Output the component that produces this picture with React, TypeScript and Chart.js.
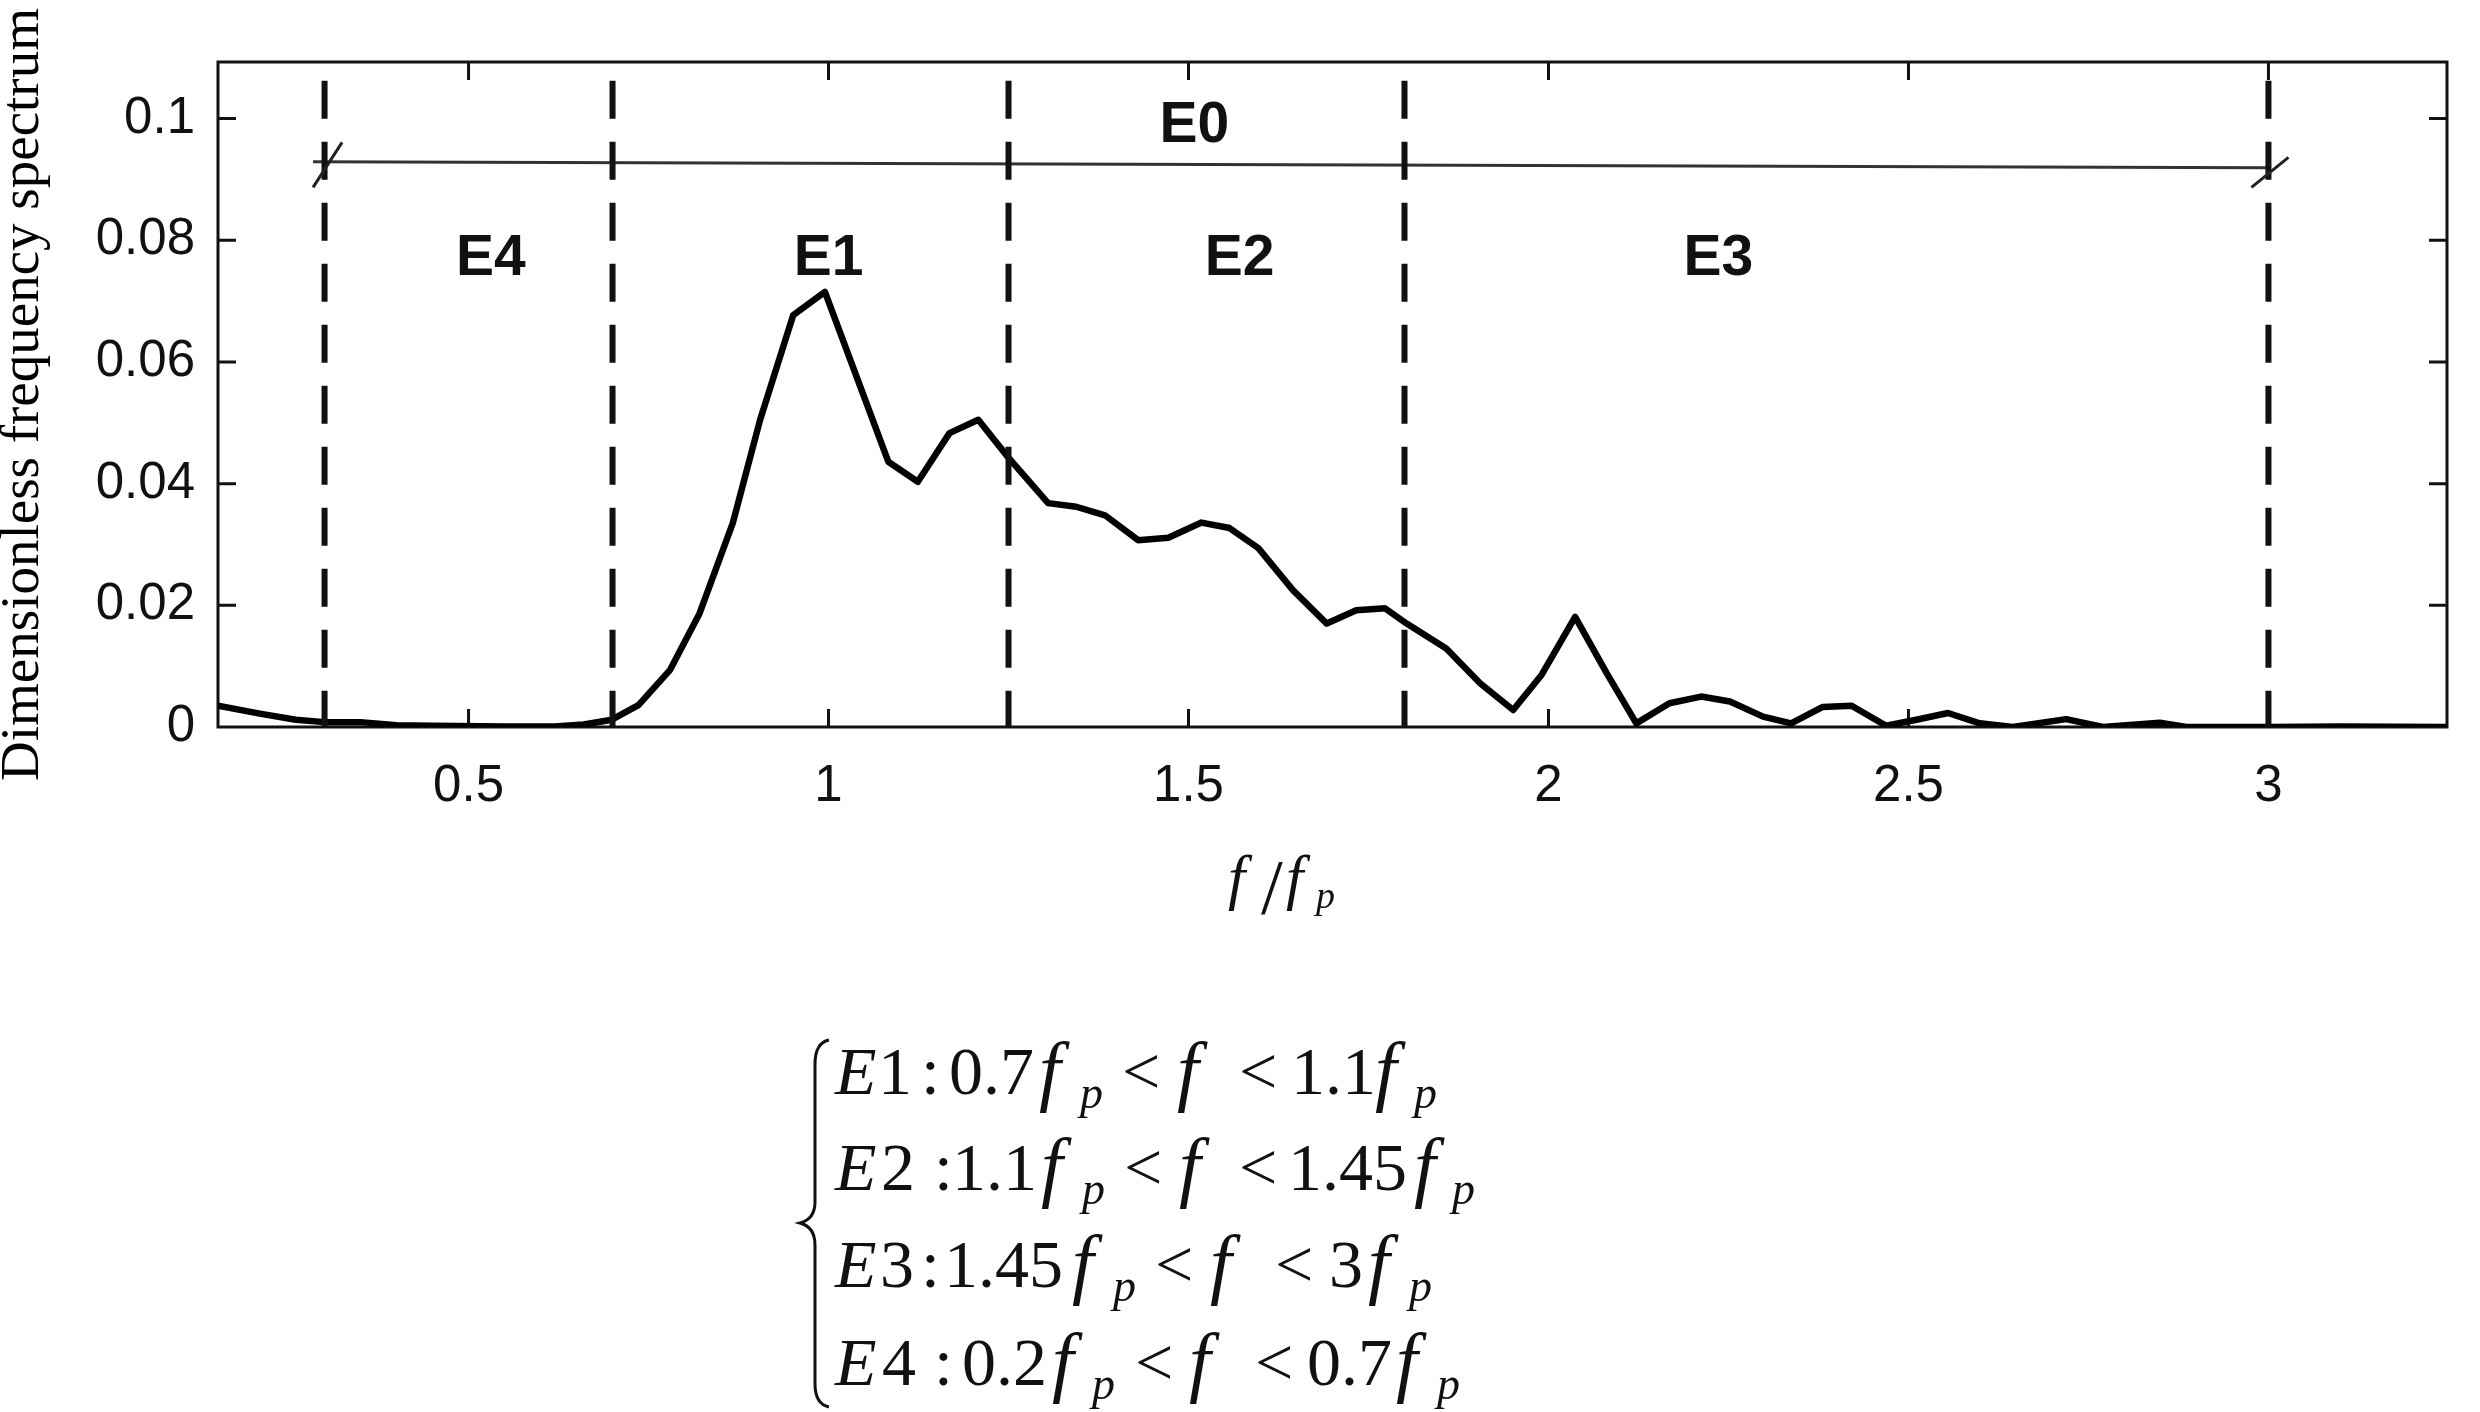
import React, { useEffect, useRef } from 'react';
import { Chart, registerables } from 'chart.js';

Chart.register(...registerables);

// ---- data ----
const FREQ = [
  0.152, 0.21, 0.26, 0.3, 0.35, 0.4, 0.45, 0.55, 0.62, 0.66,
  0.699, 0.736, 0.78, 0.821, 0.867, 0.905, 0.951, 0.995, 1.083, 1.124,
  1.168, 1.208, 1.249, 1.305, 1.344, 1.384, 1.43, 1.472, 1.518, 1.557,
  1.597, 1.645, 1.692, 1.733, 1.773, 1.803, 1.858, 1.905, 1.951, 1.99,
  2.037, 2.081, 2.122, 2.168, 2.212, 2.252, 2.298, 2.337, 2.381, 2.421,
  2.469, 2.511, 2.555, 2.599, 2.645, 2.719, 2.77, 2.849, 2.886, 3.0,
  3.1, 3.248,
];
const SPECTRUM = [
  0.0035, 0.0022, 0.0012, 0.0008, 0.0008, 0.0003, 0.0002, 0.0001, 0.0001, 0.0004,
  0.0012, 0.0036, 0.0094, 0.0187, 0.0335, 0.0505, 0.0677, 0.0715, 0.0436, 0.0403,
  0.0483, 0.0505, 0.0444, 0.0368, 0.0362, 0.0348, 0.0307, 0.0311, 0.0336, 0.0327,
  0.0294, 0.0225, 0.017, 0.0192, 0.0195, 0.017, 0.0129, 0.0072, 0.0028, 0.0085,
  0.0181, 0.0088, 0.0006, 0.0039, 0.005, 0.0042, 0.0017, 0.0006, 0.0033, 0.0035,
  0.0002, 0.0012, 0.0023, 0.0006, 0.0, 0.0013, 0.0, 0.0007, 0.0, 0.0,
  0.0001, 0.0,
];
const X_TICKS = [0.5, 1, 1.5, 2, 2.5, 3];
const Y_TICKS = [0, 0.02, 0.04, 0.06, 0.08, 0.1];
const X_RANGE = [0.152, 3.248];
const Y_RANGE = [0, 0.1093];
const BOUNDARIES = [0.3, 0.7, 1.25, 1.8, 3.0];
const BOUNDARY_TOP = 0.1062;
const E0_X = [0.284, 3.0];
const E0_Y = [0.0929, 0.0919];
const REGION_NAMES = ['E0', 'E4', 'E1', 'E2', 'E3'];
const REGION_X = [1.508, 0.531, 1.0, 1.571, 2.236];
const REGION_Y = [0.0962, 0.0743, 0.0743, 0.0743, 0.0743];
const Y_TITLE = 'Dimensionless frequency spectrum';

// formula tokens: [text, kind (i = italic, f = italic f, r = roman, s = italic subscript), ink offset]
type Tok = [string, string, number];
const FORMULA_LINES: Tok[][] = [
  [['E', 'i', 0], ['1', 'r', 49], [':', 'r', 92], ['0.7', 'r', 117], ['f', 'f', 205], ['p', 's', 243], ['<', 'r', 291], ['f', 'f', 343], ['<', 'r', 408], ['1.1', 'r', 462], ['f', 'f', 541], ['p', 's', 577]],
  [['E', 'i', 0], ['2', 'r', 49], [':', 'r', 105], ['1.1', 'r', 123], ['f', 'f', 207], ['p', 's', 245], ['<', 'r', 293], ['f', 'f', 345], ['<', 'r', 408], ['1.45', 'r', 459], ['f', 'f', 580], ['p', 's', 615]],
  [['E', 'i', 0], ['3', 'r', 49], [':', 'r', 92], ['1.45', 'r', 115], ['f', 'f', 238], ['p', 's', 276], ['<', 'r', 324], ['f', 'f', 376], ['<', 'r', 444], ['3', 'r', 498], ['f', 'f', 534], ['p', 's', 572]],
  [['E', 'i', 0], ['4', 'r', 49], [':', 'r', 105], ['0.2', 'r', 130], ['f', 'f', 218], ['p', 's', 255], ['<', 'r', 304], ['f', 'f', 355], ['<', 'r', 424], ['0.7', 'r', 475], ['f', 'f', 562], ['p', 's', 600]],
];

const SANS = "'Liberation Sans', Arial, sans-serif";
const SERIF = "'Liberation Serif', 'Times New Roman', serif";
const INK = '#111';

function drawInk(ctx: CanvasRenderingContext2D, text: string, font: string, inkLeft: number, baseline: number) {
  ctx.font = font;
  const m = ctx.measureText(text);
  ctx.fillText(text, inkLeft + m.actualBoundingBoxLeft, baseline);
}

const extras = {
  id: 'figureExtras',
  beforeDatasetsDraw(chart: any) {
    const { ctx, chartArea: a, scales } = chart;
    const x = scales.x;
    const y = scales.y;
    ctx.save();
    ctx.strokeStyle = INK;
    ctx.lineWidth = 3;
    ctx.strokeRect(a.left, a.top, a.right - a.left, a.bottom - a.top);
    ctx.beginPath();
    for (const v of X_TICKS) {
      const px = x.getPixelForValue(v);
      ctx.moveTo(px, a.bottom);
      ctx.lineTo(px, a.bottom - 18);
      ctx.moveTo(px, a.top);
      ctx.lineTo(px, a.top + 18);
    }
    for (const v of Y_TICKS) {
      if (v === 0) continue;
      const py = y.getPixelForValue(v);
      ctx.moveTo(a.left, py);
      ctx.lineTo(a.left + 18, py);
      ctx.moveTo(a.right, py);
      ctx.lineTo(a.right - 18, py);
    }
    ctx.stroke();
    ctx.restore();
  },
  afterDatasetsDraw(chart: any) {
    const { ctx, scales } = chart;
    const x = scales.x;
    const y = scales.y;
    ctx.save();
    ctx.fillStyle = INK;
    ctx.strokeStyle = '#222';

    // break marks at both ends of the E0 span
    const ends = [BOUNDARIES[0], BOUNDARIES[BOUNDARIES.length - 1]];
    const half = [[14.5, -22.5], [18.5, -15]];
    const shift = [[3, 3], [1.5, 4.5]];
    ctx.lineWidth = 3;
    ends.forEach((bx, i) => {
      const by = E0_Y[0] + ((bx - E0_X[0]) / (E0_X[1] - E0_X[0])) * (E0_Y[1] - E0_Y[0]);
      const cx = x.getPixelForValue(bx) + shift[i][0];
      const cy = y.getPixelForValue(by) + shift[i][1];
      ctx.beginPath();
      ctx.moveTo(cx - half[i][0], cy - half[i][1]);
      ctx.lineTo(cx + half[i][0], cy + half[i][1]);
      ctx.stroke();
    });

    // region labels
    ctx.textAlign = 'center';
    ctx.textBaseline = 'alphabetic';
    ctx.font = `bold 57px ${SANS}`;
    REGION_NAMES.forEach((n, i) => {
      ctx.fillText(n, x.getPixelForValue(REGION_X[i]), y.getPixelForValue(REGION_Y[i]));
    });

    // x axis title f/f_p
    ctx.textAlign = 'left';
    drawInk(ctx, 'f', `italic 62px ${SERIF}`, 1228, 898);
    drawInk(ctx, '/', `78px ${SERIF}`, 1261, 913);
    drawInk(ctx, 'f', `italic 62px ${SERIF}`, 1286, 898);
    drawInk(ctx, 'p', `italic 38px ${SERIF}`, 1313, 908);

    // piecewise definition below the plot
    const baseX = 834;
    const baselines = [1094, 1190, 1287, 1385];
    FORMULA_LINES.forEach((line, li) => {
      line.forEach(([t, kind, off]) => {
        const b = baselines[li];
        if (kind === 's') drawInk(ctx, t, `italic 46px ${SERIF}`, baseX + off, b + 14);
        else if (kind === 'f') drawInk(ctx, t, `italic 78px ${SERIF}`, baseX + off, b + 2);
        else if (kind === 'i') drawInk(ctx, t, `italic 68px ${SERIF}`, baseX + off, b);
        else drawInk(ctx, t, `68px ${SERIF}`, baseX + off, b);
      });
    });

    // curly brace
    ctx.strokeStyle = INK;
    ctx.lineWidth = 3;
    ctx.beginPath();
    ctx.moveTo(829, 1040);
    ctx.quadraticCurveTo(815, 1043, 815, 1064);
    ctx.lineTo(815, 1202);
    ctx.quadraticCurveTo(815, 1219, 800, 1223);
    ctx.quadraticCurveTo(815, 1227, 815, 1245);
    ctx.lineTo(815, 1384);
    ctx.quadraticCurveTo(815, 1404, 829, 1407);
    ctx.stroke();
    ctx.restore();
  },
};

export default function App() {
  const ref = useRef<HTMLCanvasElement>(null);

  useEffect(() => {
    const spectrum = FREQ.map((f, i) => ({ x: f, y: SPECTRUM[i] }));
    const e0 = E0_X.map((f, i) => ({ x: f, y: E0_Y[i] }));
    const boundarySets = BOUNDARIES.map((b) => ({
      label: `boundary ${b}`,
      data: [{ x: b, y: BOUNDARY_TOP }, { x: b, y: 0 }],
      borderColor: INK,
      borderWidth: 6,
      borderDash: [38, 23],
      borderCapStyle: 'butt' as const,
      pointRadius: 0,
      fill: false,
    }));

    const chart = new Chart(ref.current as HTMLCanvasElement, {
      type: 'line',
      data: {
        datasets: [
          ...boundarySets,
          {
            label: 'E0',
            data: e0,
            borderColor: '#333',
            borderWidth: 3,
            pointRadius: 0,
            fill: false,
          },
          {
            label: 'spectrum',
            data: spectrum,
            borderColor: '#000',
            borderWidth: 6.5,
            borderJoinStyle: 'round',
            borderCapStyle: 'round',
            tension: 0,
            pointRadius: 0,
            fill: false,
          },
        ],
      },
      options: {
        responsive: false,
        animation: false,
        devicePixelRatio: 1,
        layout: { padding: { left: 0, right: 33, top: 62, bottom: 0 } },
        plugins: { legend: { display: false }, tooltip: { enabled: false } },
        scales: {
          x: {
            type: 'linear',
            min: X_RANGE[0],
            max: X_RANGE[1],
            grid: { display: false, drawTicks: false },
            border: { display: false },
            afterBuildTicks: (s: any) => {
              s.ticks = X_TICKS.map((v) => ({ value: v }));
            },
            afterFit: (s: any) => {
              s.height = 685;
            },
            ticks: {
              autoSkip: false,
              maxRotation: 0,
              padding: 29,
              color: INK,
              font: { family: SANS, size: 51 },
              callback: (v: any) => String(v),
            },
          },
          y: {
            type: 'linear',
            min: Y_RANGE[0],
            max: Y_RANGE[1],
            grid: { display: false, drawTicks: false },
            border: { display: false },
            afterBuildTicks: (s: any) => {
              s.ticks = Y_TICKS.map((v) => ({ value: v }));
            },
            afterFit: (s: any) => {
              s.width = 218;
            },
            ticks: {
              autoSkip: false,
              padding: 23,
              color: INK,
              font: { family: SANS, size: 51 },
              callback: (v: any) => String(v),
            },
            title: {
              display: true,
              text: Y_TITLE,
              color: '#000',
              padding: { top: 0, bottom: 0 },
              font: { family: SERIF, size: 55, lineHeight: 0.85 },
            },
          },
        },
      },
      plugins: [extras],
    });
    return () => chart.destroy();
  }, []);

  return (
    <div style={{ position: 'absolute', left: 0, top: 0, width: 2480, height: 1412, background: '#fff' }}>
      <canvas ref={ref} width={2480} height={1412} style={{ display: 'block', width: 2480, height: 1412 }} />
    </div>
  );
}
